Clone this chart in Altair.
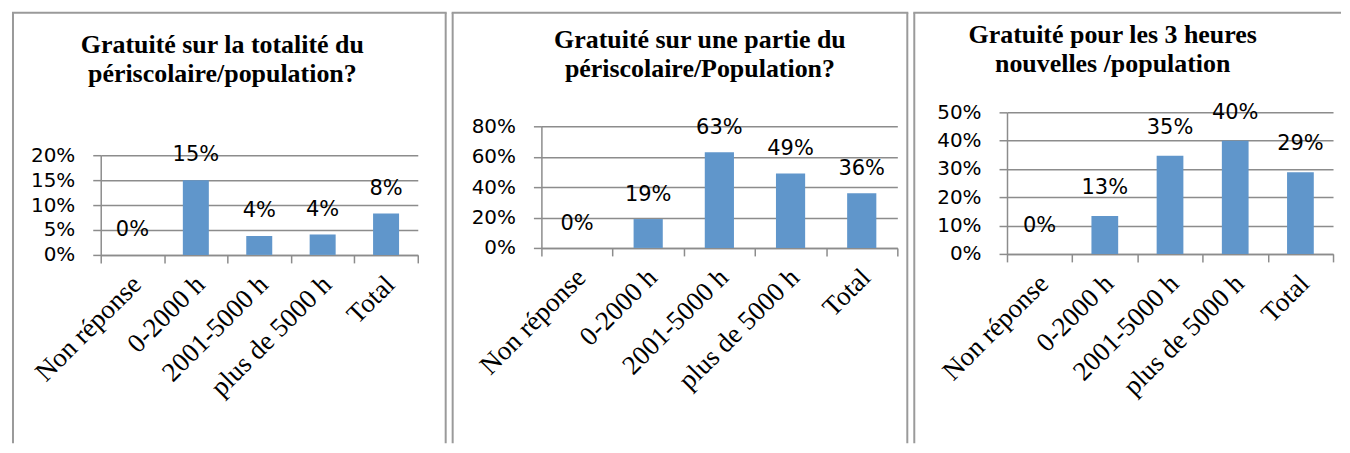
import altair as alt
import pandas as pd

categories = ["Non réponse", "0-2000 h", "2001-5000 h", "plus de 5000 h", "Total"]
titles = [
    "Gratuité sur la totalité du\npériscolaire/population?",
    "Gratuité sur une partie du\npériscolaire/Population?",
    "Gratuité pour les 3 heures\nnouvelles /population",
]
values_1 = [0.0, 0.15, 0.038, 0.041, 0.083]
values_2 = [0.0, 0.19, 0.63, 0.49, 0.36]
values_3 = [0.0, 0.134, 0.347, 0.40, 0.288]
ticks_1 = [0, 0.05, 0.10, 0.15, 0.20]
ticks_2 = [0, 0.2, 0.4, 0.6, 0.8]
ticks_3 = [0, 0.1, 0.2, 0.3, 0.4, 0.5]

BAR = "#6096CB"
GRID = "#8c8c8c"
BORDER = "#9a9a9a"


def panel(values, ticks, title, w, h, yrange, box, title_xy, label_dy, right_border=True):
    df = pd.DataFrame({"cat": categories, "v": values})
    x = alt.X(
        "cat:N", sort=categories, title=None,
        scale=alt.Scale(paddingInner=0, paddingOuter=0),
        axis=alt.Axis(labelAngle=-45, labelAlign="right", labelBaseline="top",
                      tickBand="extent", labelFont="Liberation Serif", labelFontSize=27,
                      labelPadding=8, labelOffset=-5, tickSize=8, grid=False,
                      labelColor="#000000", labelLimit=300),
    )
    y = alt.Y(
        "v:Q", title=None,
        scale=alt.Scale(domain=[0, ticks[-1]], nice=False, range=yrange),
        axis=alt.Axis(values=ticks, tickCount=20, format=".0%", grid=True, tickSize=8,
                      labelPadding=18, labelFont="DejaVu Sans", labelFontSize=20,
                      labelColor="#000000", labelOverlap=False, labelFlush=False),
    )
    bars = alt.Chart(df).mark_bar(color=BAR, width=alt.RelativeBandSize(0.41)).encode(x=x, y=y)
    labels = alt.Chart(df).mark_text(
        dy=label_dy, font="DejaVu Sans", fontSize=21, color="#000000", baseline="middle"
    ).encode(x=alt.X("cat:N", sort=categories), y=alt.Y("v:Q"),
             text=alt.Text("v:Q", format=".0%"))
    one = pd.DataFrame({"k": [0]})
    x0, x1, y0, y1 = box
    rule_style = dict(stroke=BORDER, strokeWidth=2)
    left = alt.Chart(one).mark_rule(**rule_style).encode(
        x=alt.value(x0), y=alt.value(y0), y2=alt.value(y1))
    top = alt.Chart(one).mark_rule(**rule_style).encode(
        x=alt.value(x0 - 1), x2=alt.value(x1 + (1 if right_border else 0)), y=alt.value(y0))
    layers = [left, top]
    if right_border:
        layers.append(alt.Chart(one).mark_rule(**rule_style).encode(
            x=alt.value(x1), y=alt.value(y0), y2=alt.value(y1)))
    ttl = alt.Chart(pd.DataFrame({"t": [title]})).mark_text(
        align="center", baseline="alphabetic", font="Liberation Serif", fontWeight="bold",
        fontSize=26, lineBreak="\n", lineHeight=30, color="#000000"
    ).encode(x=alt.value(title_xy[0]), y=alt.value(title_xy[1]), text="t:N")
    return alt.layer(*layers, bars, labels, ttl).properties(width=w, height=h)


p1 = panel(values_1, ticks_1, titles[0], 318, 143, [143, 43], (-88, 346, -100, 332), (122, -60), -25)
p2 = panel(values_2, ticks_2, titles[1], 357, 136, [136, 14], (-89, 367, -100, 332), (159, -65), -24)
p3 = panel(values_3, ticks_3, titles[2], 327, 142, [142, 0], (-93, 335, -100, 332), (106, -70), -28,
           right_border=False)

chart = alt.hconcat(p1, p2, p3, spacing=3).properties(
    padding={"left": 3, "top": 3, "right": 0, "bottom": 0}
).configure_view(strokeWidth=0).configure_axis(
    domainColor=GRID, gridColor=GRID, tickColor=GRID, domainWidth=1.5, gridWidth=1.5, tickWidth=1.5
)

chart.save("out.html", embed_options={"renderer": "svg", "actions": False})
